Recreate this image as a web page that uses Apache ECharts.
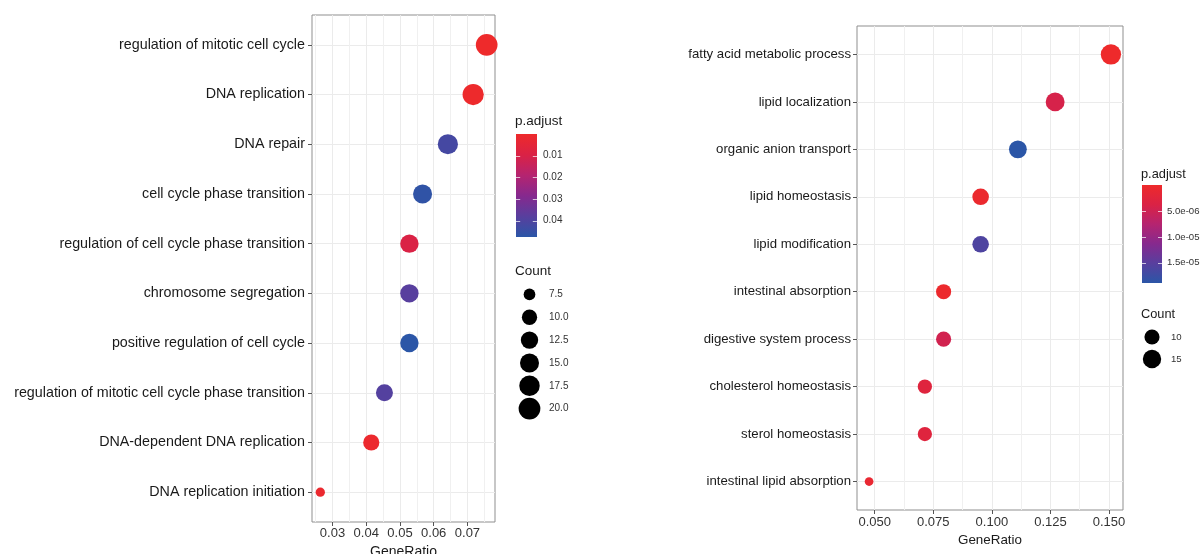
<!DOCTYPE html>
<html><head><meta charset="utf-8">
<script src="https://cdn.jsdelivr.net/npm/echarts@6/dist/echarts.min.js"></script>
<style>html,body{margin:0;padding:0;background:#fff}#c{width:1202px;height:554px}</style>
</head><body><div id="c"></div>
<script>
// ---------- Left panel data ----------
const leftCategories = [
  'regulation of mitotic cell cycle',
  'DNA replication',
  'DNA repair',
  'cell cycle phase transition',
  'regulation of cell cycle phase transition',
  'chromosome segregation',
  'positive regulation of cell cycle',
  'regulation of mitotic cell cycle phase transition',
  'DNA-dependent DNA replication',
  'DNA replication initiation'
];
const leftGeneRatio = [0.0757, 0.0717, 0.0642, 0.0567, 0.0528, 0.0528, 0.0528, 0.0454, 0.0415, 0.0264];
const leftCount     = [20, 19, 17, 15, 14, 14, 14, 12, 11, 7];
const leftPadjust   = [0.00002, 0.0003, 0.042, 0.0465, 0.0095, 0.038, 0.0476, 0.039, 0.001, 0.0015];
const leftXTicks    = [0.03, 0.04, 0.05, 0.06, 0.07];
const leftXMinor    = [0.025, 0.035, 0.045, 0.055, 0.065, 0.075];
const leftPTicks    = [0.01, 0.02, 0.03, 0.04];
const leftCountLegend = [7.5, 10, 12.5, 15, 17.5, 20];

// ---------- Right panel data ----------
const rightCategories = [
  'fatty acid metabolic process',
  'lipid localization',
  'organic anion transport',
  'lipid homeostasis',
  'lipid modification',
  'intestinal absorption',
  'digestive system process',
  'cholesterol homeostasis',
  'sterol homeostasis',
  'intestinal lipid absorption'
];
const rightGeneRatio = [0.1508, 0.1270, 0.1111, 0.0952, 0.0952, 0.0794, 0.0794, 0.0714, 0.0714, 0.0476];
const rightCount     = [19, 16, 14, 12, 12, 10, 10, 9, 9, 6];
const rightPadjust   = [2e-9, 4.2e-6, 1.89e-5, 5e-7, 1.6e-5, 3e-7, 4.7e-6, 2.8e-6, 2.8e-6, 1e-6];
const rightXTicks    = [0.05, 0.075, 0.1, 0.125, 0.15];
const rightXMinor    = [0.0375, 0.0625, 0.0875, 0.1125, 0.1375];
const rightPTicks    = [5e-6, 1e-5, 1.5e-5];
const rightCountLegend = [10, 15];

const colorStops = ['#EE2A2B', '#DA2245', '#B52470', '#86298E', '#583F9E', '#2B56A7'];

// ---------- helpers ----------
const mn = a => Math.min.apply(null, a), mx = a => Math.max.apply(null, a);
function xRange(vals){ const a = mn(vals), b = mx(vals), s = b - a; return [a - 0.05*s, b + 0.05*s]; }
function sizeFn(counts, dmin, dmax){ const a = mn(counts), b = mx(counts);
  return c => dmin + (dmax - dmin) * Math.sqrt(Math.max(0, c - a) / (b - a)); }
const sizeL = sizeFn(leftCount, 9.3, 21.7);
const sizeR = sizeFn(rightCount, 8.7, 20.3);
const xrL = xRange(leftGeneRatio), xrR = xRange(rightGeneRatio);
const FONT = '"Liberation Sans", Arial, sans-serif';
const GRID_LINE = '#EBEBEB', BORDER = '#8f8f8f';

function mainY(cats, gridIndex, fs, margin){
  const idx = cats.map((_, i) => i);
  return { type:'value', gridIndex, min:-0.6, max:cats.length - 0.4, inverse:true, position:'left',
    axisLine:{show:false, onZero:false},
    axisTick:{show:true, length:4, lineStyle:{color:'#555'}, customValues: idx},
    axisLabel:{customValues: idx, formatter: v => cats[Math.round(v)], fontSize: fs, color:'#1a1a1a', fontFamily: FONT, margin},
    splitLine:{show:true, lineStyle:{color: GRID_LINE, width:1}} };
}
function mainX(range, ticks, gridIndex, fs, dec, margin, nameGap, nameFs){
  return { type:'value', gridIndex, min: range[0], max: range[1], position:'bottom',
    axisLine:{show:false, onZero:false},
    axisTick:{show:true, length:4, lineStyle:{color:'#555'}, customValues: ticks},
    axisLabel:{customValues: ticks, formatter: v => v.toFixed(dec), fontSize: fs, color:'#333', fontFamily: FONT, margin},
    splitLine:{show:true, lineStyle:{color: GRID_LINE, width:1}},
    name:'GeneRatio', nameLocation:'middle', nameGap, nameTextStyle:{fontSize: nameFs, color:'#1a1a1a', fontFamily: FONT} };
}
function minorX(range, minor, gridIndex){
  return { type:'value', gridIndex, min: range[0], max: range[1], position:'top',
    axisLine:{show:false, onZero:false}, axisTick:{show:false, customValues: minor}, axisLabel:{show:false, customValues: minor},
    splitLine:{show:true, lineStyle:{color:'#F0F0F0', width:1}} };
}
function barX(gridIndex){ return { type:'value', gridIndex, min:0, max:1, show:false, axisLine:{onZero:false} }; }
function barY(p, ticks, gridIndex, fs, margin, fmt){
  return { type:'value', gridIndex, min: mn(p), max: mx(p), inverse:true, position:'right',
    axisLine:{show:false, onZero:false}, axisTick:{show:false, customValues: ticks}, splitLine:{show:false},
    axisLabel:{customValues: ticks, formatter: fmt, fontSize: fs, color:'#333', fontFamily: FONT, margin} };
}
function barSeries(p, ticks, xi, yi){
  const pmin = mn(p), pmax = mx(p);
  return { type:'custom', xAxisIndex: xi, yAxisIndex: yi, silent:true, data:[[0, pmin]],
    renderItem: (params, api) => {
      const p0 = api.coord([0, pmin]), p1 = api.coord([1, pmax]);
      const x = p0[0], y = p0[1], w = p1[0] - p0[0], h = p1[1] - p0[1];
      const stops = colorStops.map((c, i) => ({offset: i / (colorStops.length - 1), color: c}));
      const children = [{ type:'rect', shape:{x, y, width:w, height:h},
        style:{ fill: new echarts.graphic.LinearGradient(0, 0, 0, 1, stops) } }];
      ticks.forEach(t => {
        const yy = Math.round(api.coord([0, t])[1]) + 0.5;
        children.push({type:'line', shape:{x1:x, y1:yy, x2:x + w*0.2, y2:yy}, style:{stroke:'rgba(255,255,255,0.7)', lineWidth:1}});
        children.push({type:'line', shape:{x1:x + w*0.8, y1:yy, x2:x + w, y2:yy}, style:{stroke:'rgba(255,255,255,0.7)', lineWidth:1}});
      });
      return { type:'group', children };
    } };
}
function cntX(gridIndex){ return { type:'value', gridIndex, min:-1, max:1, show:false, axisLine:{onZero:false} }; }
function cntY(vals, gridIndex, fs, margin, dec){
  return { type:'category', gridIndex, inverse:true, position:'right', data: vals.map(v => v.toFixed(dec)),
    axisLine:{show:false, onZero:false}, axisTick:{show:false}, splitLine:{show:false},
    axisLabel:{fontSize: fs, color:'#333', fontFamily: FONT, margin, align:'left'} };
}

const option = {
  animation:false,
  backgroundColor:'#fff',
  textStyle:{fontFamily: FONT},
  grid:[
    {left:312, top:15, width:183, height:507, show:true, borderColor:BORDER, borderWidth:1, backgroundColor:'#fff', outerBoundsMode:'none'},
    {left:857, top:26, width:266, height:484, show:true, borderColor:BORDER, borderWidth:1, backgroundColor:'#fff', outerBoundsMode:'none'},
    {left:516, top:134, width:21, height:103, outerBoundsMode:'none'},
    {left:1142, top:185, width:20, height:98, outerBoundsMode:'none'},
    {left:519, top:283, width:21, height:137, outerBoundsMode:'none'},
    {left:1142, top:326, width:20, height:44, outerBoundsMode:'none'}
  ],
  xAxis:[
    mainX(xrL, leftXTicks, 0, 13, 2, 5, 22, 14),
    mainX(xrR, rightXTicks, 1, 13, 3, 6, 17, 13.4),
    minorX(xrL, leftXMinor, 0),
    minorX(xrR, rightXMinor, 1),
    barX(2), barX(3), cntX(4), cntX(5)
  ],
  yAxis:[
    mainY(leftCategories, 0, 14.3, 7),
    mainY(rightCategories, 1, 13.2, 6),
    barY(leftPadjust, leftPTicks, 2, 10, 6, v => v.toFixed(2)),
    barY(rightPadjust, rightPTicks, 3, 9.6, 5, v => v.toExponential(1).replace(/e-(\d)$/, 'e-0$1')),
    cntY(leftCountLegend, 4, 10, 9, 1),
    cntY(rightCountLegend, 5, 9.6, 9, 0)
  ],
  visualMap:[
    {type:'continuous', show:false, seriesIndex:0, dimension:3, min: mn(leftPadjust), max: mx(leftPadjust), inRange:{color: colorStops}},
    {type:'continuous', show:false, seriesIndex:1, dimension:3, min: mn(rightPadjust), max: mx(rightPadjust), inRange:{color: colorStops}}
  ],
  graphic:[
    {type:'text', left:515, top:114, style:{text:'p.adjust', font:'13.5px ' + FONT, fill:'#1a1a1a'}},
    {type:'text', left:515, top:264, style:{text:'Count', font:'13.5px ' + FONT, fill:'#1a1a1a'}},
    {type:'text', left:1141, top:168, style:{text:'p.adjust', font:'12.8px ' + FONT, fill:'#1a1a1a'}},
    {type:'text', left:1141, top:308, style:{text:'Count', font:'12.8px ' + FONT, fill:'#1a1a1a'}}
  ],
  series:[
    { type:'scatter', xAxisIndex:0, yAxisIndex:0, clip:true,
      data: leftCategories.map((c, i) => [leftGeneRatio[i], i, leftCount[i], leftPadjust[i]]),
      symbolSize: v => sizeL(v[2]), itemStyle:{opacity:1} },
    { type:'scatter', xAxisIndex:1, yAxisIndex:1, clip:true,
      data: rightCategories.map((c, i) => [rightGeneRatio[i], i, rightCount[i], rightPadjust[i]]),
      symbolSize: v => sizeR(v[2]), itemStyle:{opacity:1} },
    barSeries(leftPadjust, leftPTicks, 4, 2),
    barSeries(rightPadjust, rightPTicks, 5, 3),
    { type:'scatter', xAxisIndex:6, yAxisIndex:4, silent:true,
      data: leftCountLegend.map((c, i) => [0, i, c]), symbolSize: v => sizeL(v[2]), itemStyle:{color:'#000', opacity:1} },
    { type:'scatter', xAxisIndex:7, yAxisIndex:5, silent:true,
      data: rightCountLegend.map((c, i) => [0, i, c]), symbolSize: v => sizeR(v[2]), itemStyle:{color:'#000', opacity:1} }
  ]
};
const chart = echarts.init(document.getElementById('c'), null, {renderer:'canvas'});
chart.setOption(option);
</script>
</body></html>
